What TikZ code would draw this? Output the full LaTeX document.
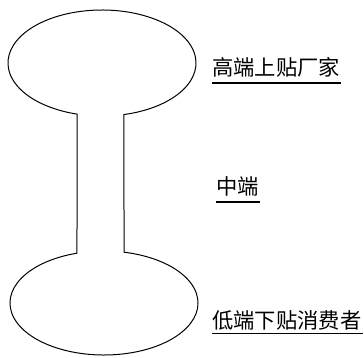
\documentclass[tikz,border=0pt]{standalone}
\usepackage{fontspec}
\newfontfamily\cjk{Noto Sans CJK SC}
\usetikzlibrary{calc}
\tikzset{
  outline/.style={draw=black, line width=1pt, line join=miter},
  label/.style={font=\cjk\fontsize{21.3pt}{23pt}\selectfont, inner sep=0pt, anchor=west},
  uline/.style={draw=black, line width=1.2pt}
}
\begin{document}
\begin{tikzpicture}[x=1pt,y=1pt]
\useasboundingbox (0,0) rectangle (364,357);
\coordinate (topc) at (102,294);
\coordinate (botc) at (104,54);
\draw[outline] ($(topc)+(-76.5:94 and 53)$)
  arc[start angle=-76.5, end angle=254.6, x radius=94pt, y radius=53pt]
  -- ($(botc)+(106.7:94 and 52)$)
  arc[start angle=106.7, end angle=437.7, x radius=94pt, y radius=52pt]
  -- cycle;
\node[label] (t1) at (212,290) {高端上贴厂家};
\node[label] (t2) at (216,171) {中端};
\node[label] (t3) at (212,37) {低端下贴消费者};
\draw[uline] ($(t1.west)+(0,-16)$) -- ($(t1.east)+(1,-16)$);
\draw[uline] ($(t2.west)+(0,-16)$) -- ($(t2.east)+(1,-16)$);
\draw[uline] ($(t3.west)+(0,-13.5)$) -- ($(t3.east)+(1,-13.5)$);
\end{tikzpicture}
\end{document}
